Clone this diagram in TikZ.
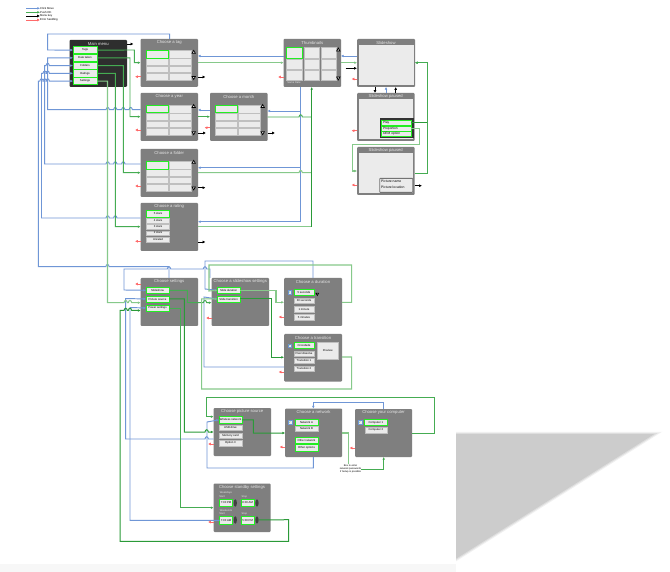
\documentclass[tikz,border=0pt]{standalone}
\usepackage{fontspec}
\setmainfont{Liberation Sans}
\newfontfamily\symfont{DejaVu Sans}
\usetikzlibrary{arrows.meta,shapes.geometric}
\definecolor{navblue}{HTML}{6F96D6}
\definecolor{okdark}{HTML}{2A9A38}
\definecolor{okmid}{HTML}{45AC52}
\definecolor{oklight}{HTML}{86C98A}
\definecolor{errred}{HTML}{FF2A2A}
\definecolor{panelgray}{HTML}{7F7F7F}
\definecolor{cellgray}{HTML}{EBEBEB}
\definecolor{selgreen}{HTML}{22EE22}
\newcommand\tinyfont{\fontsize{2.8}{3.3}\selectfont}
\newcommand\hopr[2]{-- ({#1-1.7},#2) .. controls ({#1-1.2},{#2-3}) and ({#1+1.2},{#2-3}) .. ({#1+1.7},#2)}
\newcommand\hopl[2]{-- ({#1+1.7},#2) .. controls ({#1+1.2},{#2-3}) and ({#1-1.2},{#2-3}) .. ({#1-1.7},#2)}
% screen: name, x1, y1, x2, y2, title
\newcommand\screen[7][panel]{%
  \node[#1,anchor=north west,minimum width={((#5)-(#3))*1pt},minimum height={((#6)-(#4))*1pt}] (#2) at (#3,#4) {};
  \node[titletext] (#2t) at ({(#3+#5)/2},{#4+3.8}) {#7};}
% cell: style, name, x1, y1, x2, y2, text
\newcommand\cell[7][cellbox]{%
  \node[#1,minimum width={((#5)-(#3))*1pt},minimum height={((#6)-(#4))*1pt}] (#2) at ({((#3)+(#5))/2},{((#4)+(#6))/2}) {#7};}
% 2x4 grid at x,y
\newcommand\gridfour[3]{%
  \cell{#1b}{#2+23}{#3}{#2+45}{#3+7.5}{}
  \cell{#1c}{#2}{#3+8}{#2+22}{#3+14.5}{}
  \cell{#1d}{#2+23}{#3+8}{#2+45}{#3+14.5}{}
  \cell{#1e}{#2}{#3+15.5}{#2+22}{#3+22}{}
  \cell{#1f}{#2+23}{#3+15.5}{#2+45}{#3+22}{}
  \cell{#1g}{#2}{#3+23}{#2+22}{#3+29.5}{}
  \cell{#1h}{#2+23}{#3+23}{#2+45}{#3+29.5}{}
  \cell[selbox]{#1a}{#2}{#3}{#2+22}{#3+7.5}{}}
\tikzset{
  panel/.style={draw=none,fill=panelgray,rounded corners=1pt,inner sep=0pt,outer sep=0pt},
  darkpanel/.style={panel,fill=black!82},
  titletext/.style={text=white!90!black,font=\fontsize{4.2}{4.7}\selectfont,inner sep=0pt},
  cellbox/.style={fill=cellgray,draw=black!25,line width=0.2pt,inner sep=0pt,outer sep=0pt,font=\tinyfont},
  selbox/.style={cellbox,draw=selgreen,line width=0.9pt},
  inner area/.style={fill=cellgray,inner sep=0pt,outer sep=0pt},
  nav/.style={draw=navblue,line width=0.95pt,-{Latex[length=2.6pt,width=2.6pt]}},
  oka/.style={draw=okmid,line width=0.95pt,-{Latex[length=2.6pt,width=2.6pt,fill=okdark!80!black]}},
  okc/.style={draw=okdark,line width=1pt,-{Latex[length=2.6pt,width=2.6pt,fill=okdark!80!black]}},
  okb/.style={draw=oklight,line width=1.05pt,-{Latex[length=2.6pt,width=2.6pt,fill=okdark!80!black]}},
  menu key/.style={draw=black,line width=0.8pt,-{Latex[length=2.8pt,width=2.8pt]}},
  errflow/.style={draw=errred!70,line width=0.9pt,-{Latex[length=2.8pt,width=2.8pt,fill=errred]}},
  uptri/.style={regular polygon,regular polygon sides=3,fill=white,draw=black,line width=0.7pt,inner sep=0pt,minimum size=3.8pt},
  downtri/.style={uptri,shape border rotate=180},
  spin/.style={ellipse,fill=black!75,inner sep=0pt,minimum width=3.2pt,minimum height=7.4pt},
  check/.style={fill=cellgray,draw=navblue,line width=0.3pt,inner sep=0pt,minimum size=3.6pt,text=okdark,font=\symfont\fontsize{3}{3}\selectfont},
  small text/.style={font=\fontsize{2.8}{3}\selectfont,inner sep=0pt,text=black},
  label text/.style={font=\fontsize{2.6}{3}\selectfont,inner sep=0pt,text=white!90!black},
}
\begin{document}
\begin{tikzpicture}[x=1pt,y=-1pt]
\useasboundingbox (0,0) rectangle (670,572);
% page edge and shadow
\fill[white] (0,0) rectangle (670,572);
\fill[black!3] (0,563.5) rectangle (456,572);
\fill[black!6] (456,431.8) -- (662,431.8) -- (456,561.3) -- cycle;
\fill[black!13] (456,433) -- (658,433) -- (456,560) -- cycle;
\fill[black!20] (456,434.2) -- (654,434.2) -- (456,558.7) -- cycle;
% legend
\node[small text,anchor=west] (lg1) at (40,8.3) {Click Move};
\node[small text,anchor=west] (lg2) at (40,12.3) {Push OK};
\node[small text,anchor=west] (lg3) at (40,16) {Menu key};
\node[small text,anchor=west] (lg4) at (40,20) {Error handling};
\coordinate (lf1) at (26,8.3); \coordinate (lf2) at (26,12.3); \coordinate (lf3) at (26,16); \coordinate (lf4) at (26,20);
\draw[nav] (lf1) -- (lg1.west);
\draw[oka] (lf2) -- (lg2.west);
\draw[menu key] (lf3) -- (lg3.west);
\draw[errflow] (lf4) -- (lg4.west);
% main menu
\screen[darkpanel]{main}{69.5}{40}{127}{87}{Main menu}
\cell[selbox]{mTags}{73}{46.5}{97}{53.7}{Tags}
\cell[selbox]{mDate}{73}{54.2}{97}{61.5}{Date taken}
\cell[selbox]{mFolder}{73}{62}{97}{69.2}{Folders}
\cell[selbox]{mRating}{73}{69.7}{97}{77}{Ratings}
\cell[selbox]{mSettings}{73}{77.5}{97}{84.7}{Settings}
% browse screens
\screen{tagbox}{140.5}{39}{198}{87}{Choose a tag}
\gridfour{tg}{146}{50.5}
\node[uptri] (tagup) at (193.7,52.3) {}; \node[downtri] (tagdn) at (193.7,77.5) {};
\screen{yearbox}{140.5}{93}{198}{141}{Choose a year}
\gridfour{yg}{146}{105.2}
\node[uptri] (yearup) at (193.7,106.5) {}; \node[downtri] (yeardn) at (193.7,132.7) {};
\screen{monthbox}{210}{93}{267.5}{141}{Choose a month}
\gridfour{mg}{215.3}{105.2}
\node[uptri] (monthup) at (262.7,106.5) {}; \node[downtri] (monthdn) at (262.7,132.7) {};
\screen{folderbox}{140.5}{149}{198}{197}{Choose a folder}
\gridfour{fg}{146}{161.5}
\node[uptri] (folderup) at (193.7,162.3) {}; \node[downtri] (folderdn) at (193.7,188) {};
\screen{ratingbox}{140.5}{203}{198}{251}{Choose a rating}
\cell[selbox]{r5}{146.5}{210.8}{169.5}{217}{5 stars}
\cell{r4}{146.5}{218.3}{169.5}{223}{4 stars}
\cell{r3}{146.5}{224.5}{169.5}{229}{3 stars}
\cell{r2}{146.5}{230.7}{169.5}{235.3}{2 stars}
\cell{r0}{146.5}{237}{169.5}{241.7}{Unrated}
% thumbnails
\screen{thumbbox}{283.5}{39}{341}{87}{Thumbnails}
\cell{t2}{304}{47.5}{319}{58}{}
\cell{t3}{320.7}{47.5}{336}{58}{}
\cell{t4}{286.5}{59}{302.5}{69}{}
\cell{t5}{304}{59}{319}{69}{}
\cell{t6}{320.7}{59}{336}{69}{}
\cell{t7}{286.5}{70}{302.5}{80}{}
\cell{t8}{304}{70}{319}{80}{}
\cell{t9}{320.7}{70}{336}{80}{}
\cell[selbox]{t1}{286.5}{47.5}{302.5}{58}{}
\node[label text] (thumbnote) at (294,83) {Same Date};
\node[uptri] (thumbup) at (338.3,50) {}; \node[downtri] (thumbdn) at (338.3,78) {};
% slideshow
\screen{showbox}{357}{39}{415}{87}{Slideshow}
\node[inner area,minimum width=54.5pt,minimum height=40pt,anchor=north west] (showin) at (359,45) {};
\screen{pauseA}{357}{93}{414.5}{141}{Slideshow paused}
\node[inner area,minimum width=54pt,minimum height=40.5pt,anchor=north west] (pauseAin) at (359,99) {};
\node[draw=black!80,fill=black!80,line width=0.6pt,minimum width=33pt,minimum height=18.5pt,anchor=north west,inner sep=0pt] (pA) at (379.5,118.5) {};
\tikzset{rowbox/.style={selbox,line width=0.7pt,font=\fontsize{3.2}{3.6}\selectfont,align=left,text width=26pt}}
\cell[rowbox]{pPlay}{381}{120.5}{411}{125.5}{Play}
\cell[rowbox]{pProp}{381}{126}{411}{131}{Proportion}
\cell[rowbox]{pOem}{381}{131.5}{411}{136.5}{OEM option}
\screen{pauseB}{357}{147}{414.5}{195}{Slideshow paused}
\node[inner area,minimum width=54pt,minimum height=40pt,anchor=north west] (pauseBin) at (359,153) {};
\node[draw=black!55,line width=0.8pt,fill=cellgray,rounded corners=0.6pt,minimum width=33pt,minimum height=14pt,anchor=north west,inner sep=0pt] (pB) at (379.3,178) {};
\node[anchor=west,font=\fontsize{3.4}{3.8}\selectfont,inner sep=0pt] (pBa) at (381,181.5) {Picture name};
\node[anchor=west,font=\fontsize{3.4}{3.8}\selectfont,inner sep=0pt] (pBb) at (381,187) {Picture location};
% settings
\screen{setbox}{140.5}{278}{198}{326}{Choose settings}
\cell[selbox]{sShow}{146}{287.3}{169}{293.3}{Slideshow}
\cell[selbox]{sPic}{146}{296}{169}{302}{Picture source}
\cell[selbox]{sPow}{146}{305}{169}{311}{Power settings}
\screen{slideset}{211.5}{278}{269}{326}{Choose a slideshow settings}
\cell[selbox]{ssDur}{217.3}{287.3}{240}{293.3}{Slide duration}
\cell[selbox]{ssTra}{217.3}{296}{240}{302}{Slide transition}
\screen{durbox}{284}{278}{342}{326}{Choose a duration}
\node[check] (durchk) at (289.7,292.3) {\char"2713};
\cell[selbox]{d1}{294}{289.3}{314}{295.7}{5 seconds}
\cell{d2}{294}{298}{314}{303.3}{30 seconds}
\cell{d3}{294}{306.5}{314}{311.7}{1 minute}
\cell{d4}{294}{314.3}{314}{319.7}{5 minutes}
\node[downtri,minimum size=3pt] (durdn) at (317.3,294) {};
\screen{transbox}{284}{334}{342}{381.5}{Choose a transition}
\node[check] (trachk) at (289.7,345.7) {\char"2713};
\cell[selbox]{x1}{294}{342.8}{314}{348.7}{Crossfade}
\cell{x2}{294}{351}{314}{356}{Pixel dissolve}
\cell{x3}{294}{358.3}{314}{363.3}{Transition 1}
\cell{x4}{294}{365.7}{314}{371}{Transition 2}
\cell{preview}{317.5}{342.3}{338}{358.7}{Preview}
% picture source, network, computer
\screen{srcbox}{213.5}{408}{271}{456}{Choose picture source}
\cell[selbox]{c1}{219}{416.7}{242}{423}{Wireless network}
\cell{c2}{219}{425}{242}{430.3}{USB drive}
\cell{c3}{219}{432.7}{242}{438}{Memory card}
\cell{c4}{219}{440.3}{242}{446}{Option 3}
\screen{netbox}{285}{408.5}{342}{457}{Choose a network}
\node[check] (netchk) at (290,422.3) {\char"2713};
\cell[selbox]{n1}{295}{419}{318}{425.3}{Network A}
\cell{n2}{295}{426}{318}{431.3}{Network B}
\cell[selbox]{n3}{295}{437}{318}{443.7}{Other network}
\cell[selbox]{n4}{295}{444.5}{318}{451}{Other options}
\screen{compbox}{355}{409}{412}{457}{Choose your computer}
\node[check] (compchk) at (360,422.3) {\char"2713};
\cell[selbox]{k1}{364.7}{419}{387}{425.7}{Computer 1}
\cell{k2}{364.7}{426.7}{387}{432.7}{Computer 2}
% standby
\screen{standby}{213.5}{483.5}{270.5}{532}{Choose standby settings}
\node[label text] (wd) at (226,493) {Weekdays};
\node[label text] (wds) at (222,497) {Start};
\node[label text] (wdp) at (244.3,497) {Stop};
\node[label text] (we) at (226,510.7) {Weekends};
\node[label text] (wes) at (222,514) {Start};
\node[label text] (wep) at (244.3,514) {Stop};
\cell[selbox]{w1}{219.5}{499.3}{232.7}{506.7}{7:00 PM}
\cell[selbox]{w2}{241}{499.3}{254.3}{506.7}{8:00 AM}
\cell[selbox]{w3}{219.5}{516.5}{232.7}{524.3}{7:00 AM}
\cell[selbox]{w4}{241}{516.5}{254.3}{524.3}{5:00 PM}
\node[spin] (sp1) at (235.3,503) {};
\node[spin] (sp2) at (257,503) {};
\node[spin] (sp3) at (235.3,520) {};
\node[spin] (sp4) at (257,520) {};
% ---- blue connectors ----
\draw[nav] (tagbox.north -| 169.7,0) -- (169.7,34) -- (47.7,34) -- (47.7,50) -- (mTags.west);
\draw[nav] (yearbox.west |- 0,109.7) \hopl{130.7}{109.7} \hopl{123.3}{109.7} \hopl{115.3}{109.7} \hopl{107.7}{109.7} -- (47.7,109.7) -- (47.7,57.8) -- (mDate.west);
\draw[nav] (folderbox.west |- 0,164) \hopl{123.3}{164} \hopl{115.3}{164} \hopl{107.7}{164} -- (44.7,164) -- (44.7,65.6) \hopr{47.7}{65.6} -- (mFolder.west);
\draw[nav] (ratingbox.west |- 0,218) \hopl{115.3}{218} \hopl{107.7}{218} -- (41.5,218) -- (41.5,73.3) \hopr{44.7}{73.3} \hopr{47.7}{73.3} -- (mRating.west);
\draw[nav] (setbox.north -| 169,0) -- (169,266.7) \hopl{107.5}{266.7} -- (38.3,266.7) -- (38.3,81.1) \hopr{41.5}{81.1} \hopr{44.7}{81.1} \hopr{47.7}{81.1} -- (mSettings.west);
\draw[nav] (thumbbox.west |- 0,56) -- (tagbox.east |- 0,56);
\draw[nav] (thumbbox.south -| 300.7,0) -- (300.7,111) -- (monthbox.east |- 0,111);
\draw[nav] (thumbbox.south -| 300.7,0) -- (300.7,167.7) -- (folderbox.east |- 0,167.7);
\draw[nav] (thumbbox.south -| 300.7,0) -- (300.7,221.7) -- (ratingbox.east |- 0,221.7);
\draw[nav] (monthbox.west |- 0,110) -- (yearbox.east |- 0,110);
\draw[nav] (showbox.west |- 0,56) -- (thumbbox.east |- 0,56);
\draw[nav] (pauseA.north -| 386,0) -- (showbox.south -| 386,0);
\draw[nav] (durbox.north -| 313,0) -- (313,261) -- (205,261) -- (205,289) -- (ssDur.west);
\draw[nav] (transbox.west |- 0,367) -- (204,367) -- (204,297) -- (ssTra.west);
\draw[nav] (slideset.north -| 210,0) -- (210,269) \hopl{205}{269} \hopl{169}{269} -- (124,269) -- (124,290) -- (sShow.west);
\draw[nav] (srcbox.west |- 0,439) \hopl{206.7}{439} -- (125.7,439) -- (125.7,298.5) -- (sPic.west);
\draw[nav] (w3.west) -- (130,520.4) -- (130,307.5) -- (sPow.west);
\draw[nav] (netbox.south -| 313.3,0) -- (313.3,468) -- (207,468) -- (207,422) -- (c1.west);
\draw[nav] (compbox.north -| 383.7,0) -- (383.7,402.7) -- (313.3,402.7) -- (netbox.north -| 313.3,0);
% ---- green connectors ----
\draw[okb] (tagbox.east |- 0,62.7) -- (thumbbox.west |- 0,62.7);
\draw[okb] (thumbbox.east |- 0,62.7) -- (showbox.west |- 0,62.7);
\draw[oka] (yearbox.east |- 0,116.7) -- (monthbox.west |- 0,116.7);
\draw[oka,-] (monthbox.east |- 0,117) \hopr{300.7}{117} -- (311.7,117);
\draw[okb,-] (folderbox.east |- 0,172.7) \hopr{300.7}{172.7} -- (311.7,172.7);
\draw[okb,-] (ratingbox.east |- 0,226.7) -- (311.7,226.7);
\draw[okc] (311.7,226.7) -- (thumbbox.south -| 311.7,0);
\draw[oka] (mTags.east) -- (134.3,50) -- (134.3,62.7) -- (tagbox.west |- 0,62.7);
\draw[oka] (mDate.east) -- (130,57.8) -- (130,116.7) -- (yearbox.west |- 0,116.7);
\draw[oka] (mFolder.east) -- (123.3,65.6) -- (123.3,172.7) -- (folderbox.west |- 0,172.7);
\draw[oka] (mRating.east) -- (115.3,73.3) -- (115.3,226.7) -- (ratingbox.west |- 0,226.7);
\draw[okb] (mSettings.east) -- (107.5,81.1) -- (107.5,302.7) \hopr{125.7}{302.7} \hopr{130}{302.7} -- (setbox.west |- 0,302.7);
\draw[okc] (pPlay.east) -- (427,123) -- (427,62.7) -- (showbox.east |- 0,62.7);
\draw[oka] (pauseB.east |- 0,173) -- (427,173) -- (427,62.7) -- (showbox.east |- 0,62.7);
\draw[okb] (pProp.east) -- (419.3,128.5) -- (419.3,144.3) -- (352.3,144.3) -- (352.3,171) -- (pauseB.west |- 0,171);
\draw[oka] (sShow.east) -- (187.3,290.3) -- (187.3,302.7) \hopr{205}{302.7} -- (slideset.west |- 0,302.7);
\draw[okb] (durbox.east |- 0,302.3) -- (351.7,302.3) -- (351.7,265) -- (209,265) -- (209,291) -- (ssDur.west);
\draw[okb] (transbox.east |- 0,357) -- (351.7,357) -- (351.7,389) -- (201.7,389) -- (201.7,298.8) -- (ssTra.west);
\draw[okb] (ssDur.east) -- (276,290.3) -- (276,302.3) -- (durbox.west |- 0,302.3);
\draw[okc] (ssTra.east) -- (271.2,299) -- (271.2,357.3) -- (transbox.west |- 0,357.3);
\draw[okc] (sPic.east) -- (184.3,299) -- (184.3,432) \hopr{206.7}{432} -- (srcbox.west |- 0,432);
\draw[oka] (sPow.east) -- (180,308) -- (180,507.7) -- (standby.west |- 0,507.7);
\draw[okc] (sp4.east) -- (288.7,519.7) -- (288.7,541.3) -- (120,541.3) -- (120,310.5) \hopr{125.7}{310.5} \hopr{130}{310.5} -- (setbox.west |- 0,310.5);
\draw[okc] (c1.east) -- (253.3,419.8) -- (253.3,433) -- (netbox.west |- 0,433);
\node[font=\fontsize{2.5}{3}\selectfont,align=center,inner sep=0pt,fill=white] (netnote) at (350.5,468.5) {Box to enter\\network passwords\\if Setup is possible};
\draw[okb,-] (netbox.east |- 0,433) -- (348.3,433) -- (netnote.north -| 348.3,0);
\draw[oka] (netnote.east |- 0,469) -- (383.7,469) -- (compbox.south -| 383.7,0);
\draw[oka] (compbox.east |- 0,433) -- (434.3,433) -- (434.3,397.7) -- (206.7,397.7) -- (206.7,416.7) -- (srcbox.west |- 0,416.7);
% ---- menu key (black) ----
\draw[menu key] (main.east |- 0,44) -- (133.5,44);
\draw[menu key] (tagbox.east |- 0,77) -- (205.5,77);
\draw[menu key] (yearbox.east |- 0,133) -- (206,133);
\draw[menu key] (monthbox.east |- 0,133) -- (275,133);
\draw[menu key] (folderbox.east |- 0,187.7) -- (205.5,187.7);
\draw[menu key] (ratingbox.east |- 0,242) -- (205.5,242);
\draw[menu key] (345.7,68.3) -- (showbox.west |- 0,68.3);
\draw[menu key] (pauseB.east |- 0,185.7) -- (422,185.7);
\draw[menu key] (showbox.south -| 375,0) -- (pauseA.north -| 375,0);
\draw[menu key] (pauseA.north -| 395.7,0) -- (showbox.south -| 395.7,0);
% ---- error (red) ----
\foreach \nm/\yy in {tagbox/76.7,yearbox/130,folderbox/186,ratingbox/241.3,thumbbox/77,showbox/79,pauseA/130.7,pauseB/185,setbox/284,slideset/318,durbox/317,transbox/372,srcbox/444,netbox/447,compbox/448,standby/522,monthbox/127.7}
  \draw[errflow] (\nm.west |- 0,\yy) -- ++(-5.5,0);
\end{tikzpicture}
\end{document}
